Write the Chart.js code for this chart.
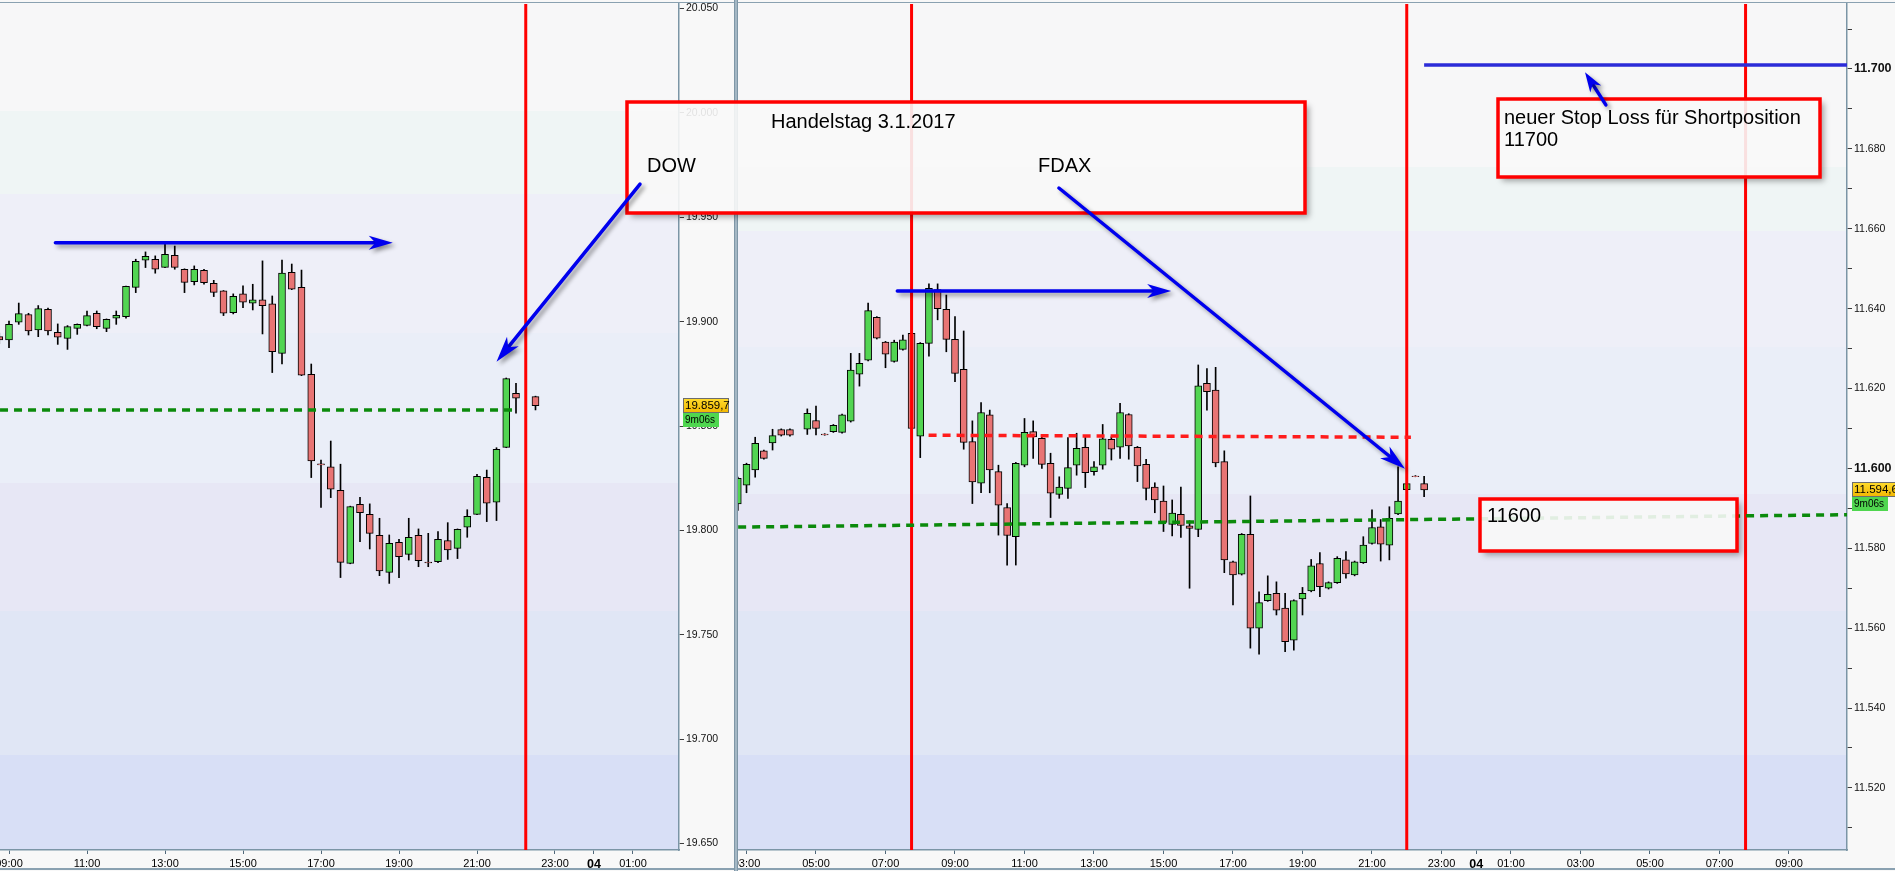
<!DOCTYPE html>
<html lang="de">
<head>
<meta charset="utf-8">
<title>DOW / FDAX – Handelstag 3.1.2017</title>
<script src="https://cdn.jsdelivr.net/npm/chart.js@4.4.1/dist/chart.umd.min.js"></script>
<style>
  html, body { margin: 0; padding: 0; background: #f8f8f8; overflow: hidden; }
  #stage { position: relative; width: 1895px; height: 871px; }
  #stage canvas { position: absolute; top: 0; }
  #dow { left: 0; }
  #fdax { left: 734px; }
</style>
</head>
<body>
<div id="stage">
  <canvas id="dow" width="734" height="871" style="width:734px;height:871px"></canvas>
  <canvas id="fdax" width="1161" height="871" style="width:1161px;height:871px"></canvas>
</div>
<script>
"use strict";

/* ── Data: DOW, 15-minute candles, 3.1.2017 ───────────────── */
const DOW_TIMES = ['08:45','09:00','09:15','09:30','09:45','10:00','10:15','10:30','10:45',
  '11:00','11:15','11:30','11:45','12:00','12:15','12:30','12:45','13:00','13:15','13:30','13:45',
  '14:00','14:15','14:30','14:45','15:00','15:15','15:30','15:45','16:00','16:15','16:30','16:45',
  '17:00','17:15','17:30','17:45','18:00','18:15','18:30','18:45','19:00','19:15','19:30','19:45',
  '20:00','20:15','20:30','20:45','21:00','21:15','21:30','21:45','22:00','22:30'];
const DOW_OPEN = [19892.8,19891.2,19899.7,19903.4,19896.0,19905.9,19894.9,19892.0,19896.8,
  19898.2,19904.0,19896.8,19901.6,19902.4,19916.4,19929.4,19929.9,19926.0,19931.8,19925.1,19919.2,
  19924.6,19918.4,19914.7,19904.3,19913.3,19908.8,19910.4,19908.5,19884.8,19923.6,19916.4,19874.8,
  19831.9,19830.5,19819.2,19784.2,19812.5,19807.7,19797.6,19779.9,19794.3,19788.5,19797.6,19784.8,
  19785.0,19795.1,19791.4,19801.5,19807.7,19825.4,19813.5,19839.8,19865.7,19864.1];
const DOW_HIGH = [19894.5,19900.3,19908.9,19904.0,19907.7,19906.5,19898.9,19898.1,19898.9,
  19905.1,19905.1,19901.3,19905.1,19917.0,19929.9,19933.4,19931.5,19937.5,19936.2,19925.3,19926.7,
  19925.1,19919.8,19914.9,19913.3,19917.1,19917.9,19929.1,19912.3,19929.5,19927.6,19924.7,19879.7,
  19833.7,19842.8,19831.7,19811.6,19815.8,19812.7,19805.8,19797.8,19795.7,19805.8,19800.7,19798.6,
  19799.4,19803.7,19800.7,19809.9,19826.9,19828.9,19839.6,19873.0,19870.5,19864.3];
const DOW_LOW = [19889.5,19887.5,19898.7,19893.6,19892.8,19893.6,19889.1,19886.7,19893.9,
  19898.0,19896.6,19895.2,19898.7,19901.6,19913.9,19925.9,19923.2,19925.8,19925.1,19913.9,19917.6,
  19917.9,19912.0,19902.9,19903.7,19906.7,19905.6,19894.1,19875.6,19879.7,19915.3,19874.1,19825.3,
  19811.0,19815.7,19777.4,19784.0,19794.6,19791.1,19778.3,19774.6,19777.4,19785.8,19782.6,19782.6,
  19784.5,19786.1,19786.5,19796.7,19807.5,19804.2,19804.7,19839.6,19856.1,19857.7];
const DOW_CLOSE = [19891.2,19898.7,19903.8,19895.5,19906.2,19895.5,19892.5,19897.6,19898.7,
  19902.9,19897.6,19901.1,19903.0,19916.9,19928.9,19931.3,19925.1,19932.3,19926.0,19918.8,19925.1,
  19918.7,19914.0,19904.0,19912.1,19909.3,19910.4,19907.7,19885.6,19923.2,19915.5,19874.3,19833.3,
  19831.4,19819.7,19784.7,19811.4,19808.5,19798.6,19780.6,19793.8,19787.4,19796.7,19785.5,19784.4,
  19795.7,19790.6,19800.5,19806.7,19825.9,19813.0,19838.8,19872.7,19863.3,19859.7];

/* ── Data: FDAX, 15-minute candles ───────────────────────── */
const FDAX_TIMES = ['02:45','03:00','03:15','03:30','03:45','04:00','04:15','04:45',
  '05:00','05:15','05:30','05:45','06:00','06:15','06:30','06:45','07:00','07:15','07:30','07:45',
  '08:00','08:15','08:30','08:45','09:00','09:15','09:30','09:45','10:00','10:15','10:30','10:45',
  '11:00','11:15','11:30','11:45','12:00','12:15','12:30','12:45','13:00','13:15','13:30','13:45',
  '14:00','14:15','14:30','14:45','15:00','15:15','15:30','15:45','16:00','16:15','16:30','16:45',
  '17:00','17:15','17:30','17:45','18:00','18:15','18:30','18:45','19:00','19:15','19:30','19:45',
  '20:00','20:15','20:30','20:45','21:00','21:15','21:30','21:45','22:00','22:15','22:30'];
const FDAX_OPEN = [11591.1,11595.8,11599.6,11604.4,11606.4,11609.7,11609.7,11609.8,
  11612.0,11608.6,11609.2,11609.0,11611.8,11623.6,11627.1,11637.8,11631.6,11626.8,11629.8,11633.8,
  11608.1,11631.3,11644.8,11639.8,11632.3,11624.8,11606.7,11596.3,11613.4,11599.2,11590.2,11582.9,
  11600.8,11609.2,11607.5,11601.3,11593.5,11595.0,11600.8,11605.3,11599.2,11600.8,11607.3,11605.3,
  11613.5,11605.3,11601.0,11595.3,11591.8,11586.0,11588.5,11585.6,11584.7,11621.3,11619.6,11601.7,
  11576.6,11573.5,11583.5,11560.0,11566.9,11568.7,11565.0,11557.0,11567.3,11569.3,11576.2,11570.0,
  11571.4,11577.1,11573.3,11576.4,11581.2,11585.4,11580.8,11588.6,11594.7,11598.1,11596.2];
const FDAX_HIGH = [11597.8,11601.3,11607.8,11604.6,11609.8,11609.9,11609.9,11614.9,
  11615.6,11608.7,11611.0,11613.6,11628.8,11628.8,11641.4,11638.0,11631.8,11632.1,11633.4,11634.0,
  11631.5,11646.2,11646.2,11643.4,11638.0,11634.4,11611.9,11616.5,11614.6,11600.8,11591.2,11601.5,
  11612.5,11611.9,11608.4,11603.8,11597.9,11607.7,11608.8,11607.8,11601.7,11611.0,11607.9,11616.3,
  11613.7,11605.5,11602.3,11596.4,11595.6,11592.1,11595.3,11586.9,11625.9,11625.0,11625.3,11604.4,
  11576.8,11583.7,11593.1,11569.1,11573.1,11571.6,11568.7,11567.1,11570.2,11577.2,11578.9,11571.6,
  11577.9,11579.2,11576.8,11582.9,11589.6,11587.2,11590.4,11600.4,11596.4,11598.2,11598.0];
const FDAX_LOW = [11589.5,11593.9,11597.8,11602.3,11604.6,11608.1,11608.1,11608.5,
  11608.4,11608.3,11609.0,11608.8,11611.6,11620.6,11626.9,11632.4,11625.2,11626.6,11629.6,11609.8,
  11602.7,11628.1,11637.2,11629.2,11621.7,11604.8,11591.2,11593.9,11593.9,11583.3,11575.8,11575.8,
  11600.4,11602.5,11600.0,11587.7,11592.5,11592.5,11598.3,11595.2,11598.3,11599.8,11602.1,11602.5,
  11602.3,11596.7,11592.1,11588.9,11584.2,11583.1,11582.7,11570.0,11582.9,11614.6,11600.4,11573.9,
  11565.8,11573.3,11555.0,11553.5,11566.7,11563.3,11554.1,11554.5,11563.3,11569.1,11567.9,11569.8,
  11571.2,11572.5,11573.1,11576.2,11581.0,11576.8,11577.1,11588.4,11594.5,11597.9,11592.9];
const FDAX_CLOSE = [11597.5,11601.0,11606.3,11602.5,11608.2,11608.3,11608.3,11613.8,
  11610.0,11608.4,11610.8,11613.4,11624.6,11626.3,11639.5,11632.6,11628.6,11631.6,11632.2,11610.0,
  11631.3,11645.1,11640.0,11632.3,11623.8,11606.5,11596.6,11614.0,11599.6,11590.8,11583.2,11601.3,
  11609.0,11607.9,11601.0,11593.8,11595.3,11600.2,11605.0,11598.9,11600.4,11607.4,11604.8,11614.0,
  11605.6,11600.6,11595.0,11592.1,11586.5,11588.8,11585.7,11585.0,11620.7,11619.2,11601.4,11577.1,
  11573.3,11583.5,11560.0,11566.4,11568.5,11564.5,11556.6,11566.9,11568.7,11575.6,11570.4,11571.4,
  11577.5,11573.6,11576.6,11580.8,11585.2,11581.0,11587.5,11591.8,11596.2,11597.9,11594.6];

/* ── Axis ticks (hours counted from 00:00 on the 3rd; 24 = "04") ── */
const DOW_TIME_TICKS  = [9, 11, 13, 15, 17, 19, 21, 23, 24, 25];
const FDAX_TIME_TICKS = [3, 5, 7, 9, 11, 13, 15, 17, 19, 21, 23, 24, 25, 27, 29, 31, 33];
const DOW_PRICE_TICKS = [19650, 19700, 19750, 19800, 19850, 19900, 19950, 20000, 20050];
const FDAX_PRICE_TICKS = [11520, 11540, 11560, 11580, 11600, 11620, 11640, 11660, 11680, 11700];
const FDAX_MINOR_TICKS = [11510, 11530, 11550, 11570, 11590, 11610, 11630, 11650, 11670, 11690, 11710];

/* ── Drawn annotations: [hour, price] anchors ─────────────── */
const DOW_GREEN_LEVEL  = [[8.77, 19857.7], [21.95, 19857.7]];
const DOW_SESSION_LINES = [22.25];
const DOW_ARROWS = [
  [[10.19, 19937.8], [18.84, 19937.8]],
  [[25.18, 19965.9], [21.50, 19880.8]],
];
const FDAX_GREEN_LEVEL = [[2.76, 11585.3], [34.67, 11588.4]];
const FDAX_RED_LEVEL   = [[8.24, 11608.3], [22.12, 11607.8]];
const FDAX_STOP_LEVEL  = [[22.5, 11701], [34.67, 11701]];
const FDAX_SESSION_LINES = [7.75, 22, 31.75];
const FDAX_ARROWS = [
  [[7.34, 11644.4], [15.22, 11644.4]],
  [[11.99, 11670.2], [21.95, 11599.9]],
  [[27.73, 11691.0], [27.13, 11699.2]],
];

/* ── Style ───────────────────────────────────────────────── */
const GREEN = '#52d552';
const RED   = '#e87474';
const AXIS  = '#7b95a6';
const FONT  = "'Liberation Sans', Arial, sans-serif";
const BAND_COLORS = ['#f7f7f8', '#eff5f5', '#eeeff8', '#eaeef8', '#e7e7f5', '#e0e6f5', '#d8dff6'];

/* text boxes, page pixels */
const BOXES = [
  { x: 627, y: 102, w: 678, h: 111, texts: [
    ['Handelstag 3.1.2017', 771, 122], ['DOW', 647, 166], ['FDAX', 1038, 166]] },
  { x: 1498, y: 99, w: 322, h: 78, texts: [
    ['neuer Stop Loss für Shortposition', 1504, 118], ['11700', 1504, 140]] },
  { x: 1480, y: 499, w: 257, h: 52, texts: [['11600', 1487, 516]] },
];

/* ── Utilities ───────────────────────────────────────────── */
const toHours = s => { const [h, m] = s.split(':').map(Number); return h + m / 60; };
const fmtThousands = v => String(Math.round(v)).replace(/\B(?=(\d{3})+(?!\d))/g, '.');
function fmtPrice(v) {
  const [i, d] = v.toFixed(1).split('.');
  return fmtThousands(Number(i)) + ',' + d;
}
const fmtHour = v => v === 24 ? '04' : String(v % 24).padStart(2, '0') + ':00';

function arrow(ctx, x1, y1, x2, y2, len, half) {
  const a = Math.atan2(y2 - y1, x2 - x1), c = Math.cos(a), s = Math.sin(a);
  const bx = x2 - c * len, by = y2 - s * len;
  const nx = x2 - c * len * 0.72, ny = y2 - s * len * 0.72;
  ctx.beginPath(); ctx.moveTo(x1, y1); ctx.lineTo(nx, ny); ctx.stroke();
  ctx.beginPath();
  ctx.moveTo(x2, y2);
  ctx.lineTo(bx - s * half, by + c * half);
  ctx.lineTo(nx, ny);
  ctx.lineTo(bx + s * half, by - c * half);
  ctx.closePath(); ctx.fill();
}

function drawBox(ctx, b) {
  // soft shadow outside the box only
  ctx.save();
  ctx.beginPath();
  ctx.rect(-5000, -5000, 12000, 12000);
  ctx.rect(b.x, b.y, b.w, b.h);
  ctx.clip('evenodd');
  ctx.shadowColor = 'rgba(0,0,0,0.35)';
  ctx.shadowBlur = 6; ctx.shadowOffsetX = 4; ctx.shadowOffsetY = 4;
  ctx.fillStyle = '#000';
  ctx.fillRect(b.x, b.y, b.w, b.h);
  ctx.restore();

  ctx.save();
  ctx.fillStyle = 'rgba(248,248,248,0.9)';
  ctx.fillRect(b.x, b.y, b.w, b.h);
  ctx.strokeStyle = '#ff0000';
  ctx.lineWidth = 3.5;
  ctx.strokeRect(b.x, b.y, b.w, b.h);
  ctx.fillStyle = '#000';
  ctx.font = '20px ' + FONT;
  ctx.textBaseline = 'middle';
  b.texts.forEach(([s, x, y]) => ctx.fillText(s, x, y));
  ctx.restore();
}

function drawSeparator(ctx, y0, y1) {
  ctx.fillStyle = '#a4b7c4'; ctx.fillRect(0, y0, 4, y1 - y0);
  ctx.fillStyle = '#7f97a7'; ctx.fillRect(0, y0, 1, y1 - y0); ctx.fillRect(3, y0, 1, y1 - y0);
}

/* ── Panel decoration plugin ─────────────────────────────── */
const DECOR = {};

const decorPlugin = {
  id: 'decor',
  beforeDraw(chart) {
    const d = DECOR[chart.canvas.id];
    if (!d) return;
    const { ctx, chartArea: a, width, height } = chart;
    ctx.save();
    d.bands.forEach((f, i) => {
      const y0 = Math.round(a.top + a.height * f);
      const y1 = i + 1 < d.bands.length ? Math.round(a.top + a.height * d.bands[i + 1]) : a.bottom;
      ctx.fillStyle = BAND_COLORS[i];
      ctx.fillRect(a.left, y0, a.width, y1 - y0);
    });
    ctx.fillStyle = '#8aa1b1';
    ctx.fillRect(0, 2, width, 1);
    ctx.fillRect(0, height - 3, width, 2);
    if (d.separator) drawSeparator(ctx, 0, height);
    ctx.restore();
  },
  afterDatasetsDraw(chart) {
    const d = DECOR[chart.canvas.id];
    if (!d) return;
    const { ctx, chartArea: a, scales: { x, y } } = chart;
    const P = ([t, p]) => [x.getPixelForValue(t), y.getPixelForValue(p)];

    ctx.save();
    ctx.beginPath(); ctx.rect(a.left, a.top, a.width, a.height); ctx.clip();
    ctx.strokeStyle = '#ff0000'; ctx.lineWidth = 3;
    d.sessions.forEach(t => {
      const px = x.getPixelForValue(t);
      ctx.beginPath(); ctx.moveTo(px, a.top); ctx.lineTo(px, a.bottom); ctx.stroke();
    });
    d.lines.forEach(l => {
      const [x1, y1] = P(l.pts[0]), [x2, y2] = P(l.pts[1]);
      ctx.strokeStyle = l.color; ctx.lineWidth = l.width;
      ctx.setLineDash(l.dash || []);
      ctx.beginPath(); ctx.moveTo(x1, y1); ctx.lineTo(x2, y2); ctx.stroke();
    });
    ctx.restore();

    ctx.save();
    ctx.translate(-d.pageLeft, 0);
    BOXES.forEach(b => drawBox(ctx, b));
    ctx.restore();

    ctx.save();
    ctx.strokeStyle = '#0000ee'; ctx.fillStyle = '#0000ee';
    ctx.lineWidth = 3.5; ctx.lineCap = 'round';
    ctx.shadowColor = 'rgba(0,0,0,0.4)';
    ctx.shadowBlur = 4; ctx.shadowOffsetX = 3; ctx.shadowOffsetY = 3;
    d.arrows.forEach((ar, i) => {
      const [x1, y1] = P(ar[0]), [x2, y2] = P(ar[1]);
      const [len, half] = d.heads[i];
      arrow(ctx, x1, y1, x2, y2, len, half);
    });
    ctx.restore();
  },
  afterDraw(chart) {
    const d = DECOR[chart.canvas.id];
    if (!d) return;
    const { ctx, chartArea: a, scales: { y }, height } = chart;
    ctx.save();
    // separator hides the start of the first time label
    if (d.separator) drawSeparator(ctx, a.bottom, height);

    const yc = Math.round(y.getPixelForValue(d.last));
    const x0 = a.right + d.tagGap;
    const g = ctx.createLinearGradient(0, yc - 8, 0, yc + 7);
    g.addColorStop(0, '#ffdc2e'); g.addColorStop(1, '#f2b600');
    ctx.fillStyle = g;
    ctx.fillRect(x0, yc - 8, d.tagW, 15);
    ctx.strokeStyle = '#6d6d6d'; ctx.lineWidth = 1;
    ctx.strokeRect(x0 + 0.5, yc - 7.5, d.tagW - 1, 14);
    ctx.fillStyle = '#4fd64f';
    ctx.fillRect(x0, yc + 7, 36, 14);
    ctx.fillStyle = '#000';
    ctx.textBaseline = 'middle';
    ctx.font = '11.5px ' + FONT;
    ctx.fillText(fmtPrice(d.last), x0 + 2, yc);
    ctx.font = '10px ' + FONT;
    ctx.fillText('9m06s', x0 + 2, yc + 14);
    ctx.restore();
  },
};
Chart.register(decorPlugin);

/* ── Panel factory ───────────────────────────────────────── */
function makePanel(id, p) {
  const xs = p.times.map(toHours);
  const up = p.close.map((c, i) => c >= p.open[i]);
  const bodies = xs.map((t, i) => ({ x: t, y: [Math.min(p.open[i], p.close[i]), Math.max(p.open[i], p.close[i])] }));
  const wicks = xs.map((t, i) => ({ x: t, y: [p.low[i], p.high[i]] }));

  return new Chart(document.getElementById(id), {
    type: 'bar',
    data: {
      datasets: [
        {
          label: 'body', data: bodies, order: 0, grouped: false,
          backgroundColor: up.map(u => u ? GREEN : RED),
          borderColor: '#000', borderWidth: 1, borderSkipped: false, barThickness: 7,
        },
        {
          label: 'wick', data: wicks, order: 1, grouped: false,
          backgroundColor: '#000', borderWidth: 0, barThickness: 1,
        },
      ],
    },
    options: {
      responsive: false,
      animation: false,
      events: [],
      layout: { padding: { top: 4, left: p.padLeft, right: 0, bottom: 0 }, autoPadding: false },
      plugins: { legend: { display: false }, tooltip: { enabled: false } },
      scales: {
        x: {
          type: 'linear', min: p.xMin, max: p.xMax, offset: false,
          afterBuildTicks: s => { s.ticks = p.timeTicks.map(v => ({ value: v })); },
          afterFit: s => { s.height = 21; s.paddingLeft = 0; s.paddingRight = 0; },
          ticks: {
            autoSkip: false, maxRotation: 0, minRotation: 0, padding: 3, color: '#000',
            callback: v => fmtHour(v),
            font: c => (c.tick && c.tick.value === 24)
              ? { family: FONT, size: 12.5, weight: 'bold' }
              : { family: FONT, size: 11 },
          },
          grid: { offset: false, drawOnChartArea: false, drawTicks: true, tickLength: 4, tickColor: '#50687a' },
          border: { color: AXIS, width: 1.5 },
        },
        y: {
          type: 'linear', position: 'right', min: p.yMin, max: p.yMax, beginAtZero: false,
          afterBuildTicks: s => { s.ticks = p.priceTicks.map(v => ({ value: v })); },
          afterFit: s => { s.width = p.axisWidth; s.paddingTop = 0; s.paddingBottom = 0; },
          ticks: {
            padding: 2, color: '#111',
            callback: v => p.labelled.includes(v) ? fmtThousands(v) : '',
            font: c => (p.boldHundreds && c.tick && c.tick.value % 100 === 0)
              ? { family: FONT, size: 12.5, weight: 'bold' }
              : { family: FONT, size: 10.5 },
          },
          grid: { drawOnChartArea: false, drawTicks: true, tickLength: 5, tickColor: '#3c3c3c' },
          border: { color: AXIS, width: 1.5 },
        },
      },
    },
  });
}

/* ── Build ───────────────────────────────────────────────── */
DECOR.dow = {
  pageLeft: 0, separator: false,
  bands: [0, 0.1265, 0.2246, 0.3889, 0.5662, 0.7175, 0.8877],
  sessions: DOW_SESSION_LINES,
  lines: [{ pts: DOW_GREEN_LEVEL, color: '#0b8a0b', width: 3.5, dash: [8, 6] }],
  arrows: DOW_ARROWS, heads: [[24, 7], [26, 7.5]],
  last: DOW_CLOSE[DOW_CLOSE.length - 1], tagGap: 4, tagW: 46,
};
DECOR.fdax = {
  pageLeft: 734, separator: true,
  bands: [0, 0.1927, 0.2683, 0.4054, 0.5792, 0.7175, 0.8877],
  sessions: FDAX_SESSION_LINES,
  lines: [
    { pts: FDAX_GREEN_LEVEL, color: '#0b8a0b', width: 3.5, dash: [8, 6] },
    { pts: FDAX_RED_LEVEL, color: '#ff1c1c', width: 3.5, dash: [8, 6] },
    { pts: FDAX_STOP_LEVEL, color: '#2c2cd8', width: 3.5 },
  ],
  arrows: FDAX_ARROWS, heads: [[24, 7], [26, 7.5], [20, 6.5]],
  last: FDAX_CLOSE[FDAX_CLOSE.length - 1], tagGap: 5, tagW: 50,
};

makePanel('dow', {
  times: DOW_TIMES, open: DOW_OPEN, high: DOW_HIGH, low: DOW_LOW, close: DOW_CLOSE,
  xMin: 8.7692, xMax: 26.1795, yMin: 19646.89, yMax: 20052.16,
  timeTicks: DOW_TIME_TICKS, priceTicks: DOW_PRICE_TICKS, labelled: DOW_PRICE_TICKS,
  boldHundreds: false, padLeft: 0, axisWidth: 55,
});

makePanel('fdax', {
  times: FDAX_TIMES, open: FDAX_OPEN, high: FDAX_HIGH, low: FDAX_LOW, close: FDAX_CLOSE,
  xMin: 2.7554, xMax: 34.6691, yMin: 11504.46, yMax: 11716.27,
  timeTicks: FDAX_TIME_TICKS,
  priceTicks: [...FDAX_PRICE_TICKS, ...FDAX_MINOR_TICKS].sort((a, b) => a - b),
  labelled: FDAX_PRICE_TICKS,
  boldHundreds: true, padLeft: 4, axisWidth: 48,
});
</script>
</body>
</html>
